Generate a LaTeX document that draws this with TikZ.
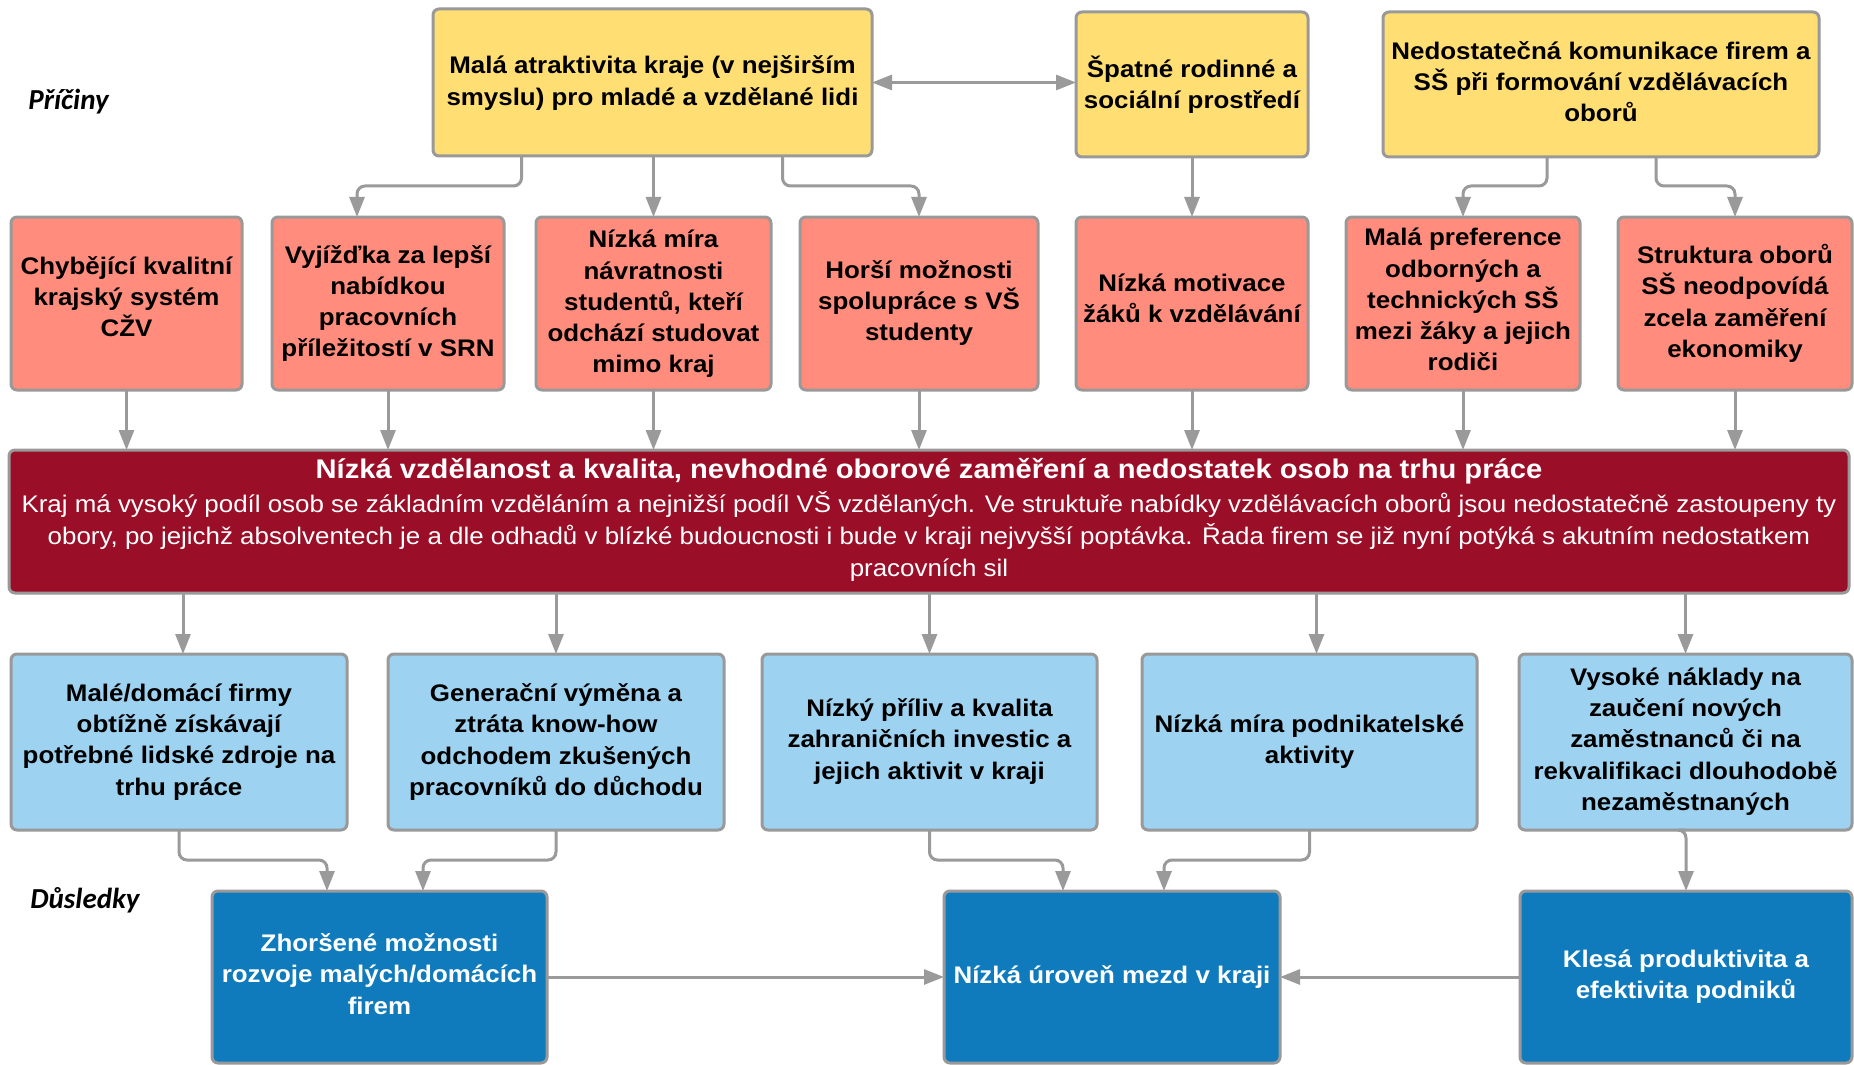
\documentclass[tikz,border=0pt]{standalone}
\usepackage{fontspec}
\setmainfont[FakeStretch=1.08]{Liberation Sans}
\newfontfamily\labfont{Carlito}
\usetikzlibrary{arrows.meta,calc}
\definecolor{cyel}{HTML}{FFDE73}
\definecolor{cpink}{HTML}{FF8C7C}
\definecolor{cred}{HTML}{9B0E28}
\definecolor{clblue}{HTML}{9ED2F1}
\definecolor{cdblue}{HTML}{107BBC}
\definecolor{cborder}{HTML}{999999}
\definecolor{carrow}{HTML}{9A9A9A}
\tikzset{
  box/.style={draw=cborder, line width=1.5pt, rounded corners=3pt, align=center,
    inner sep=0pt, outer sep=0pt, font=\fontsize{12}{15.65}\selectfont\bfseries},
  sz/.style 2 args={minimum width=#1*0.5pt, minimum height=#2*0.5pt},
  ybox/.style={box, fill=cyel},
  pbox/.style={box, fill=cpink},
  lbbox/.style={box, fill=clblue},
  dbbox/.style={box, fill=cdblue, text=white},
  arr/.style={draw=carrow, line width=1.5pt, rounded corners=4pt,
    -{Triangle[width=7.5pt,length=10pt]}},
  darr/.style={draw=carrow, line width=1.5pt,
    {Triangle[width=7.5pt,length=10pt]}-{Triangle[width=7.5pt,length=10pt]}},
  lab/.style={font=\labfont\fontsize{14.5}{17}\selectfont\bfseries\itshape, inner sep=0pt, anchor=west}
}
\begin{document}
\begin{tikzpicture}[x=0.5pt,y=-0.5pt]
\useasboundingbox (0,0) rectangle (1854,1065);
\fill[white] (0,0) rectangle (1854,1065);

% labels
\node[lab] (lpric) at (28,102) {Příčiny};
\node[lab] (ldusl) at (30,900) {Důsledky};

% top causes
\node[ybox, sz={439}{147}, text depth=2pt] (Y1) at (652.5,82.5) {Malá atraktivita kraje (v nejširším\\smyslu) pro mladé a vzdělané lidi};
\node[ybox, sz={232}{145}, text depth=2pt] (Y2) at (1192,84.5) {Špatné rodinné a\\sociální prostředí};
\node[ybox, sz={436}{145}, text depth=3pt] (Y3) at (1601,84.5) {Nedostatečná komunikace firem a\\SŠ při formování vzdělávacích\\oborů};

% second row
\node[pbox, sz={231}{173}, text depth=7pt] (P1) at (126.5,303.5) {Chybějící kvalitní\\krajský systém\\CŽV};
\node[pbox, sz={232}{173}] (P2) at (388,303.5) {Vyjížďka za lepší\\nabídkou\\pracovních\\příležitostí v SRN};
\node[pbox, sz={235}{173}, text depth=2pt] (P3) at (653.5,303.5) {Nízká míra\\návratnosti\\studentů, kteří\\odchází studovat\\mimo kraj};
\node[pbox, sz={238}{173}, text depth=3pt] (P4) at (919,303.5) {Horší možnosti\\spolupráce s VŠ\\studenty};
\node[pbox, sz={232}{173}, text depth=5pt] (P5) at (1192,303.5) {Nízká motivace\\žáků k vzdělávání};
\node[pbox, sz={234}{173}, text depth=4pt] (P6) at (1463,303.5) {Malá preference\\odborných a\\technických SŠ\\mezi žáky a jejich\\rodiči};
\node[pbox, sz={234}{173}] (P7) at (1735,303.5) {Struktura oborů\\SŠ neodpovídá\\zcela zaměření\\ekonomiky};

% banner
\node[box, fill=cred, sz={1840}{143}] (BAN) at (929,521.5) {};
\node[text=white, font=\fontsize{13.5}{16}\selectfont\bfseries, inner sep=0pt] (BANT) at (929,471) {Nízká vzdělanost a kvalita, nevhodné oborové zaměření a nedostatek osob na trhu práce};
\node[text=white, font=\fontsize{12}{16}\selectfont, align=center, inner sep=0pt] (BANB) at (929,536) {Kraj má vysoký podíl osob se základním vzděláním a nejnižší podíl VŠ vzdělaných. Ve struktuře nabídky vzdělávacích oborů jsou nedostatečně zastoupeny ty\\obory, po jejichž absolventech je a dle odhadů v blízké budoucnosti i bude v kraji nejvyšší poptávka. Řada firem se již nyní potýká s akutním nedostatkem\\pracovních sil};

% consequences row
\node[lbbox, sz={336}{176}] (B1) at (179,742) {Malé/domácí firmy\\obtížně získávají\\potřebné lidské zdroje na\\trhu práce};
\node[lbbox, sz={336}{176}] (B2) at (556,742) {Generační výměna a\\ztráta know-how\\odchodem zkušených\\pracovníků do důchodu};
\node[lbbox, sz={335}{176}, text depth=3pt] (B3) at (929.5,742) {Nízký příliv a kvalita\\zahraničních investic a\\jejich aktivit v kraji};
\node[lbbox, sz={335}{176}, text depth=3pt] (B4) at (1309.5,742) {Nízká míra podnikatelské\\aktivity};
\node[lbbox, sz={333}{176}, text depth=3pt] (B5) at (1685.5,742) {Vysoké náklady na\\zaučení nových\\zaměstnanců či na\\rekvalifikaci dlouhodobě\\nezaměstnaných};

% bottom row
\node[dbbox, sz={335}{172}, text depth=3pt] (D1) at (379.5,977) {Zhoršené možnosti\\rozvoje malých/domácích\\firem};
\node[dbbox, sz={336}{172}] (D2) at (1112,977) {Nízká úroveň mezd v kraji};
\node[dbbox, sz={332}{172}] (D3) at (1686,977) {Klesá produktivita a\\efektivita podniků};

% helper coordinates
\coordinate (toplev) at (0,186);
\coordinate (lowlev) at (0,860);
\coordinate (y1l) at ($(Y1.south)+(-131,0)$);
\coordinate (y1r) at ($(Y1.south)+(130,0)$);
\coordinate (y3l) at ($(Y3.south)+(-54,0)$);
\coordinate (y3r) at ($(Y3.south)+(55,0)$);
\coordinate (p2t) at ($(P2.north)+(-31,0)$);
\coordinate (b1t) at ($(B1.north)+(4,0)$);
\coordinate (b4t) at ($(B4.north)+(7,0)$);
\coordinate (d1l) at ($(D1.north)+(-52.5,0)$);
\coordinate (d1r) at ($(D1.north)+(43.5,0)$);
\coordinate (d2l) at ($(D2.north)+(-49,0)$);
\coordinate (d2r) at ($(D2.north)+(52,0)$);

% top connectors
\draw[darr] (Y1.east) -- (Y1.east -| Y2.west);
\draw[arr] (y1l) -- (y1l |- toplev) -| (p2t);
\draw[arr] (Y1.south -| P3.north) -- (P3.north);
\draw[arr] (y1r) -- (y1r |- toplev) -| (P4.north);
\draw[arr] (Y2.south) -- (P5.north);
\draw[arr] (y3l) -- (y3l |- toplev) -| (P6.north);
\draw[arr] (y3r) -- (y3r |- toplev) -| (P7.north);

% into banner
\foreach \p in {P1,P2,P3,P4,P5,P6,P7}
  \draw[arr] (\p.south) -- (\p.south |- BAN.north);

% out of banner
\draw[arr] (b1t |- BAN.south) -- (b1t);
\draw[arr] (B2.north |- BAN.south) -- (B2.north);
\draw[arr] (B3.north |- BAN.south) -- (B3.north);
\draw[arr] (b4t |- BAN.south) -- (b4t);
\draw[arr] (B5.north |- BAN.south) -- (B5.north);

% to bottom row
\draw[arr] (B1.south) -- (B1.south |- lowlev) -| (d1l);
\draw[arr] (B2.south) -- (B2.south |- lowlev) -| (d1r);
\draw[arr] (B3.south) -- (B3.south |- lowlev) -| (d2l);
\draw[arr] (B4.south) -- (B4.south |- lowlev) -| (d2r);
\draw[arr] (B5.south) -- (B5.south -| D3.north) -- (D3.north);

% horizontal bottom
\draw[arr] (D1.east) -- (D1.east -| D2.west);
\draw[arr] (D3.west) -- (D3.west -| D2.east);
\end{tikzpicture}
\end{document}
